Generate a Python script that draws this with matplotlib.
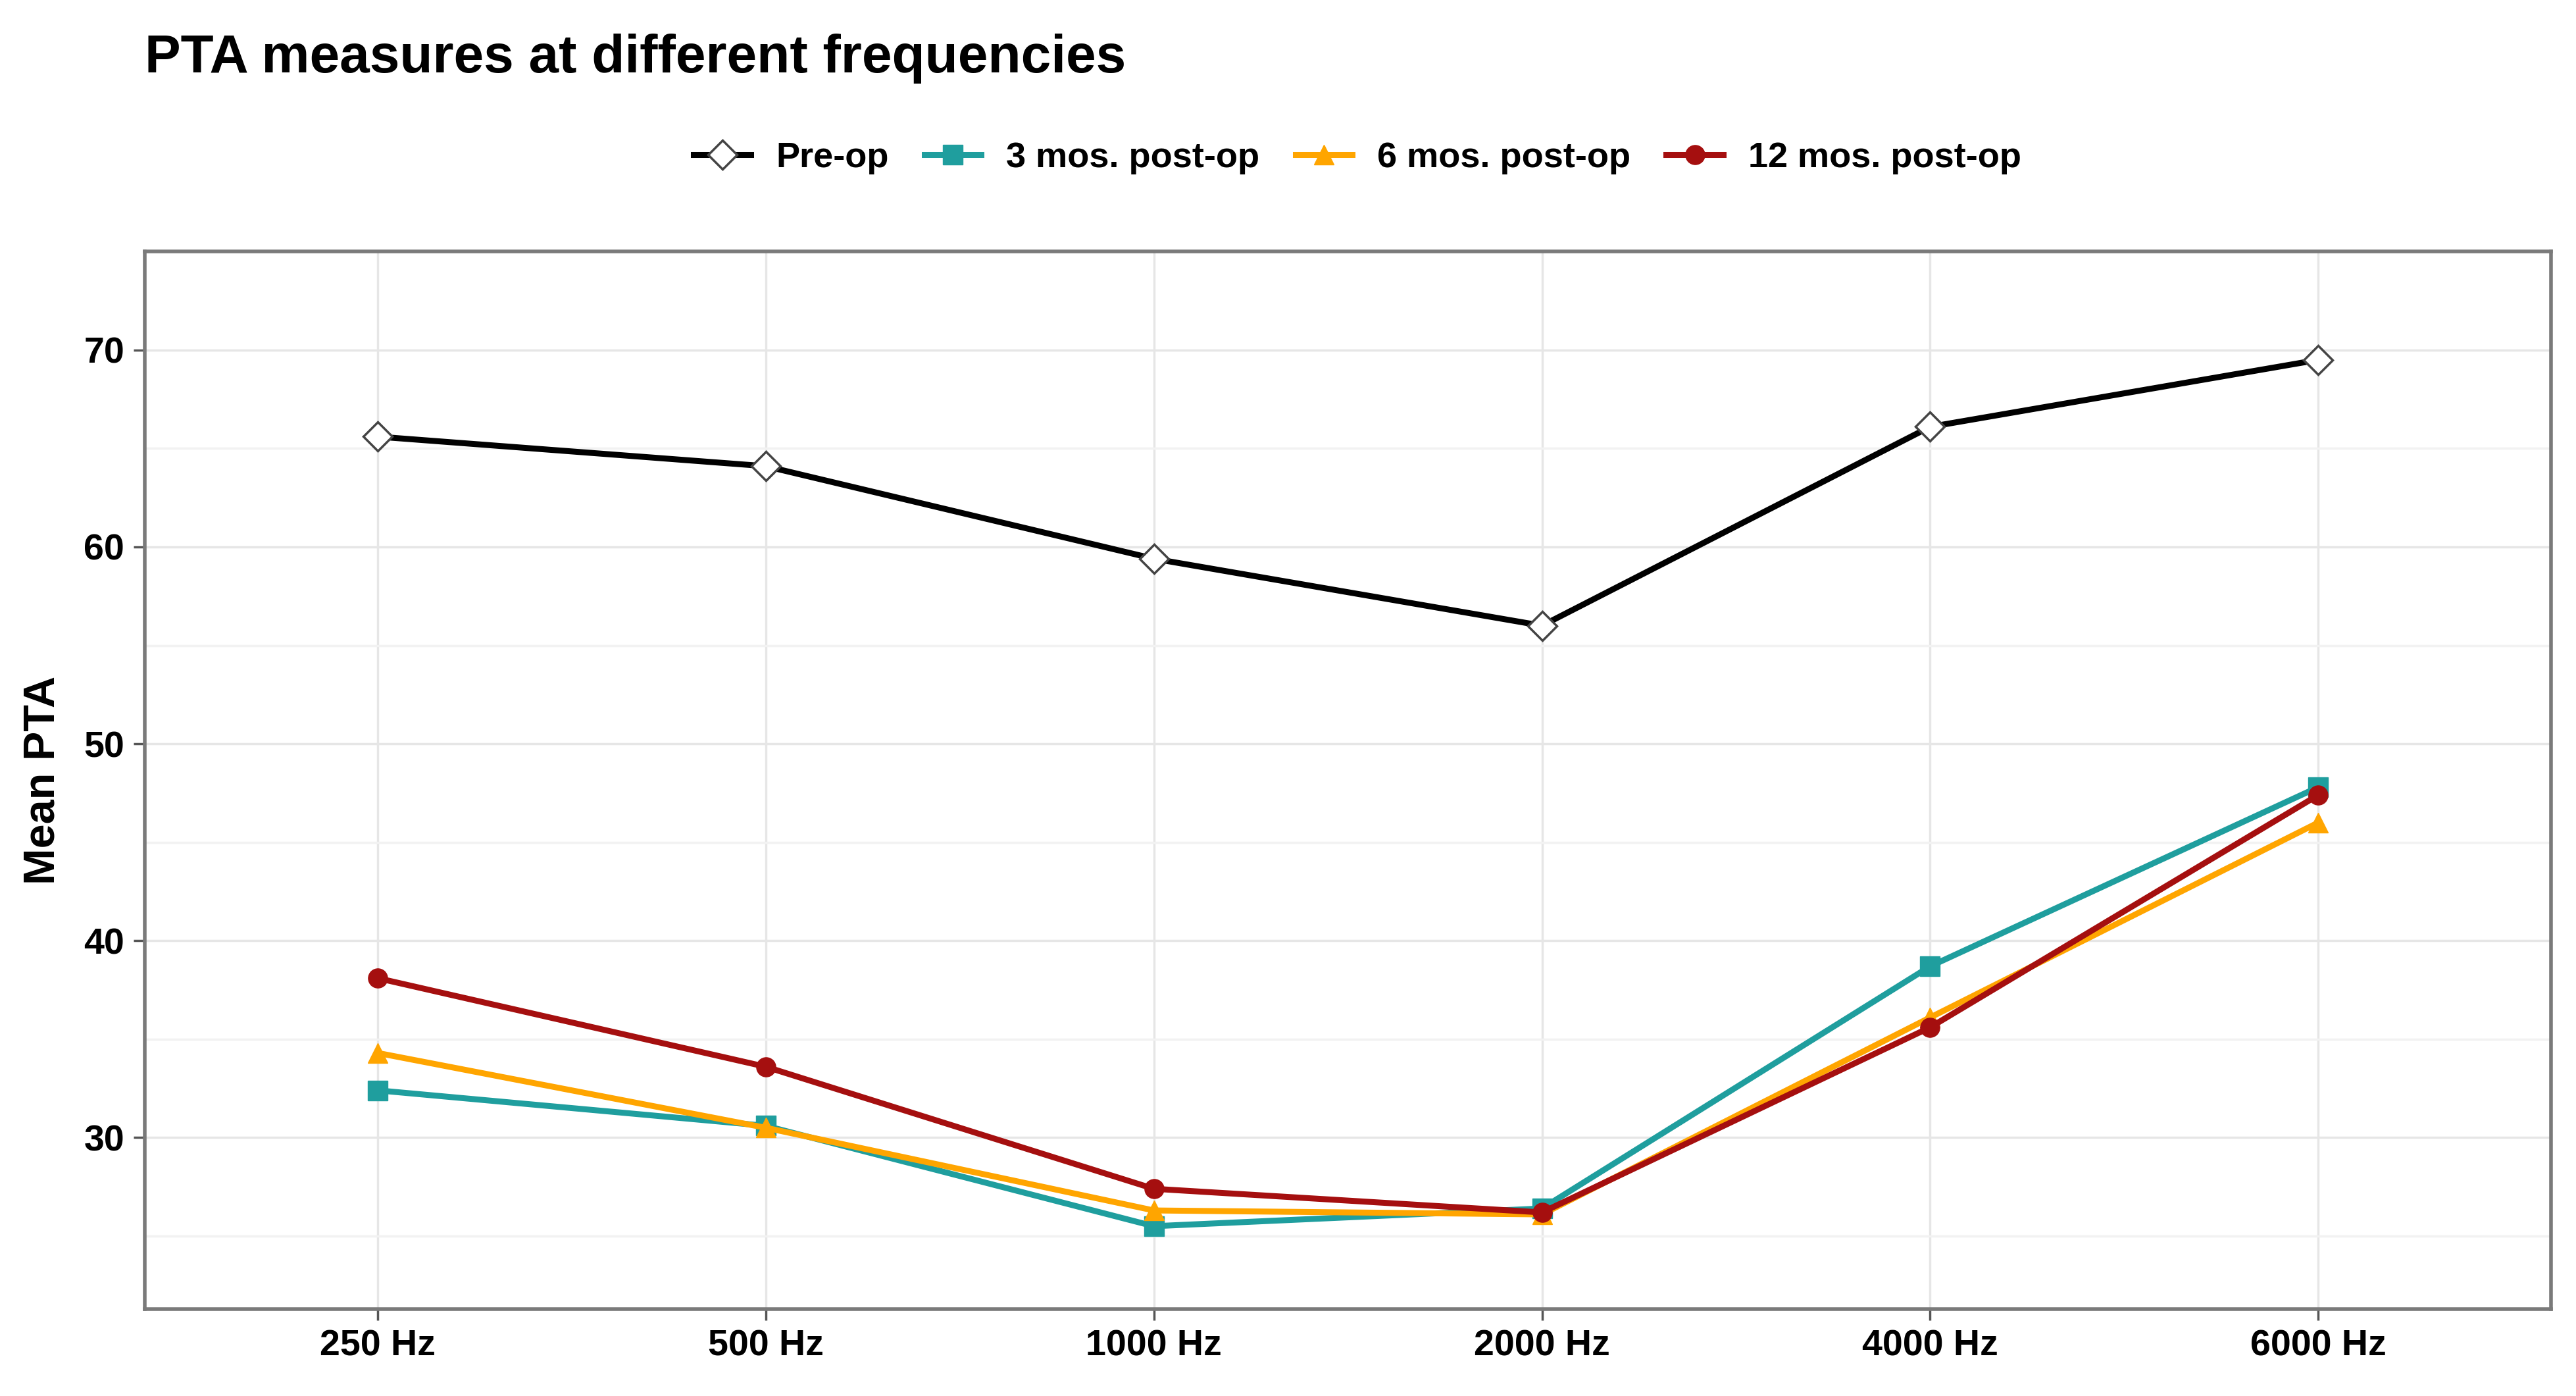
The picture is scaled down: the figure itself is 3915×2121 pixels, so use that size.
import numpy as np
import matplotlib
matplotlib.use("Agg")
import matplotlib.pyplot as plt

plt.rcParams['font.family'] = ['Liberation Sans', 'DejaVu Sans']

freqs = ["250 Hz", "500 Hz", "1000 Hz", "2000 Hz", "4000 Hz", "6000 Hz"]
pre_op = [65.6, 64.1, 59.4, 56.0, 66.1, 69.5]
post_3 = [32.4, 30.6, 25.5, 26.4, 38.7, 47.8]
post_6 = [34.3, 30.5, 26.3, 26.1, 36.1, 46.0]
post_12 = [38.1, 33.6, 27.4, 26.2, 35.6, 47.4]

labels = ["Pre-op", "3 mos. post-op", "6 mos. post-op", "12 mos. post-op"]
colors = ["black", "#1F9E9E", "#FFA500", "#A50F0F"]
markers = ["D", "s", "^", "o"]

fig = plt.figure(figsize=(39.15, 21.21), dpi=100)
ax = fig.add_axes([0.0561, 0.0624, 0.9343, 0.7574])

x = np.arange(len(freqs))
for ys, lab, c, m in zip([pre_op, post_3, post_6, post_12], labels, colors, markers):
    if m == "D":
        ax.plot(x, ys, color=c, lw=6.5, marker=m, ms=22, mfc="white", mec="#444444",
                mew=2.5, label=lab, zorder=3)
    else:
        ax.plot(x, ys, color=c, lw=6.5, marker=m, ms=21, label=lab, zorder=3)

ax.set_xlim(-0.6, 5.6)
ax.set_ylim(21.3, 75.0)
ax.set_xticks(x)
ax.set_xticklabels(freqs, fontweight="bold", fontsize=40)
ax.set_yticks([30, 40, 50, 60, 70])
ax.set_yticks([25, 35, 45, 55, 65], minor=True)
for lab in ax.get_yticklabels():
    lab.set_fontweight("bold")
    lab.set_fontsize(40)
ax.tick_params(axis="both", which="major", length=12, width=2.5, color="#555555", pad=10)
ax.tick_params(axis="y", which="minor", length=0)

ax.grid(True, which="major", color="#E6E6E6", lw=2.5, zorder=0)
ax.grid(True, which="minor", axis="y", color="#F2F2F2", lw=2.5, zorder=0)
ax.set_axisbelow(True)
for s in ax.spines.values():
    s.set_color("#7A7A7A")
    s.set_linewidth(4)

ax.set_ylabel("Mean PTA", fontweight="bold", fontsize=48, labelpad=22)

fig.text(0.0561, 0.958, "PTA measures at different frequencies", fontsize=59,
         fontweight="bold", va="center", ha="left")

fig.legend(loc="center", bbox_to_anchor=(0.527, 0.887), ncol=4, frameon=False,
           prop={"weight": "bold", "size": 39}, handlelength=1.6, columnspacing=1.0,
           handletextpad=0.7)

fig.savefig("out.png", dpi=100)
